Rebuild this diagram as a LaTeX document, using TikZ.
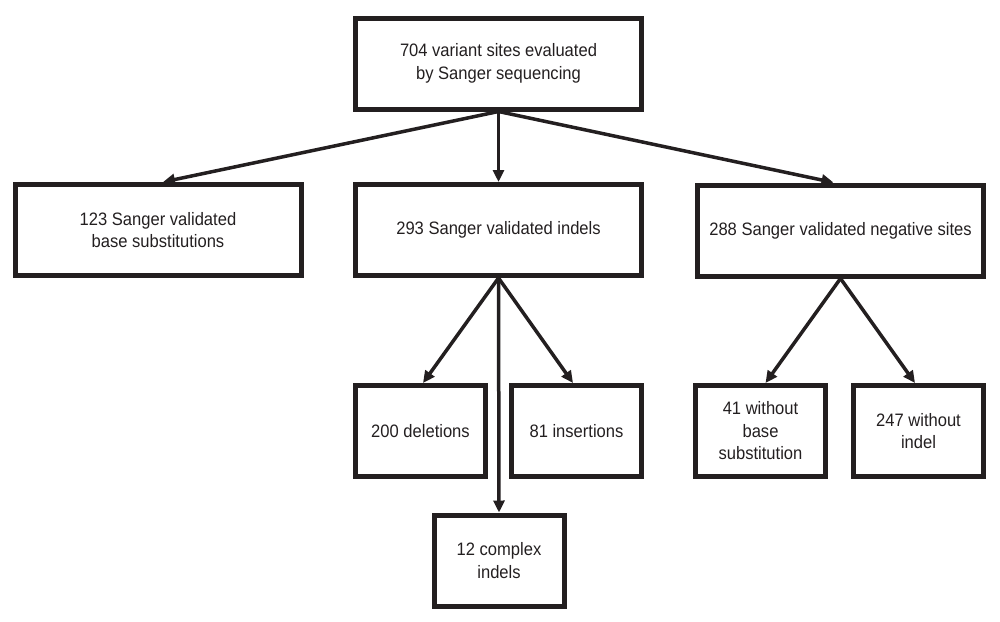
\documentclass[tikz,border=0pt]{standalone}
\usepackage{fontspec}
\setmainfont[FakeStretch=0.92]{Liberation Sans}
\usetikzlibrary{arrows.meta,calc}
\definecolor{ink}{HTML}{231F20}
\begin{document}
\begin{tikzpicture}[x=1pt,y=-1pt,
  box/.style={draw=ink,line width=5pt,inner sep=0pt,align=center,text=ink,
    font=\fontsize{18}{22.5}\selectfont},
  widebox/.style={box,minimum width=286pt,minimum height=91pt},
  smallbox/.style={box,minimum width=130pt,minimum height=91pt},
  conn/.style={draw=ink,line width=3.5pt,-{Triangle[length=12pt,width=11pt]}}]
\useasboundingbox (0,0) rectangle (1000,621);
\node[widebox] (top) at (498.5,63.5) {704 variant sites evaluated\\by Sanger sequencing};
\node[widebox] (left) at (158,230) {123 Sanger validated\\base substitutions};
\node[widebox] (mid) at (498.5,230) {293 Sanger validated indels};
\node[widebox] (right) at (840.5,230.5) {288 Sanger validated negative sites};
\node[smallbox] (del) at (420.5,431) {200 deletions};
\node[smallbox] (ins) at (576.5,431) {81 insertions};
\node[smallbox] (wob) at (760.5,431) {41 without\\base\\substitution};
\node[smallbox] (woi) at (918.5,431) {247 without\\indel};
\node[smallbox] (cpx) at (499,560.5) {12 complex\\indels};
\draw[conn] (top.south) -- ($(left.north)+(5,0)$);
\draw[conn] (top.south) -- (mid.north);
\draw[conn] (top.south) -- ($(right.north)+(-7,0)$);
\draw[conn] (mid.south) -- ($(del.north)+(2.5,0)$);
\draw[conn] (mid.south) -- ($(ins.north)+(-3.5,0)$);
\draw[conn] (mid.south) -- (cpx.north);
\draw[conn] (right.south) -- ($(wob.north)+(5,0)$);
\draw[conn] (right.south) -- ($(woi.north)+(-3.5,0)$);
\end{tikzpicture}
\end{document}
